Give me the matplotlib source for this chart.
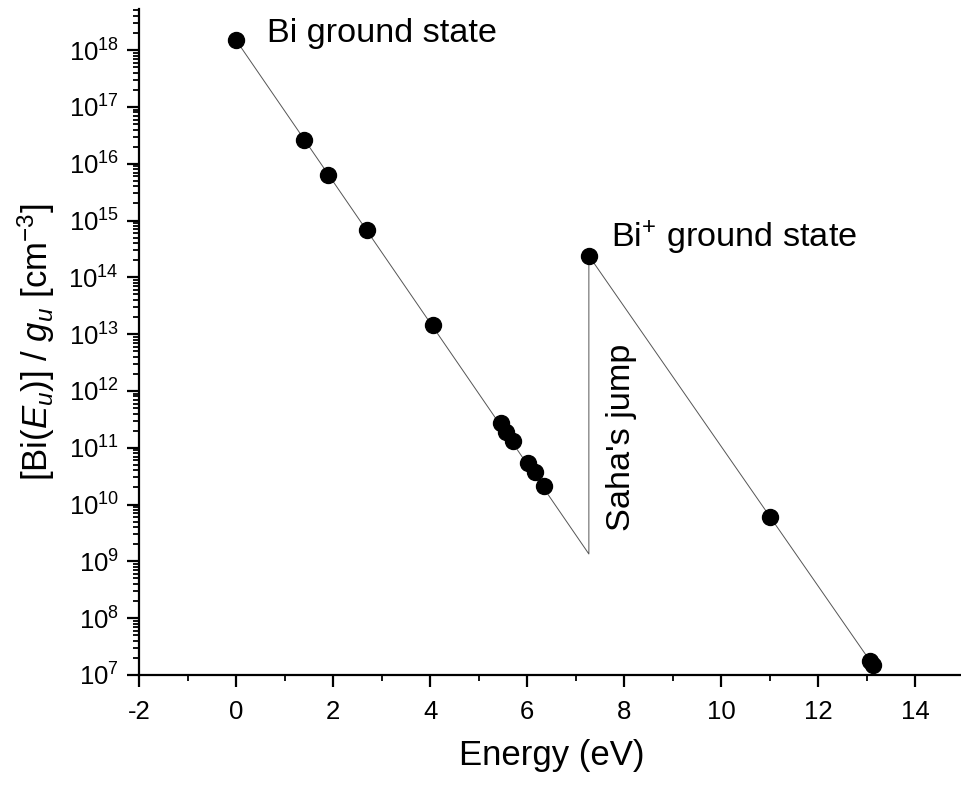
"""Boltzmann / Saha plot of Bi level populations."""

import matplotlib

matplotlib.use("Agg")
import matplotlib.pyplot as plt  # noqa: E402
from matplotlib.ticker import LogLocator, LogFormatterMathtext, MultipleLocator  # noqa: E402

# measured level populations
energy = [0.0, 1.41, 1.90, 2.69, 4.05, 5.45, 5.56, 5.70, 6.01, 6.15, 6.34,
          7.27, 11.0, 13.06, 13.12]
density = [1.5e18, 2.6e16, 6.3e15, 6.8e14, 1.45e13, 2.7e11, 1.9e11, 1.3e11,
           5.4e10, 3.8e10, 2.1e10, 2.4e14, 6.0e9, 1.75e7, 1.5e7]

# Boltzmann lines with the Saha jump between them
fit_energy = [0.0, 7.27, 7.27, 13.1]
fit_density = [1.5e18, 1.35e9, 2.4e14, 1.6e7]

plt.rcParams["font.family"] = ["Liberation Sans", "DejaVu Sans"]
plt.rcParams["mathtext.fontset"] = "custom"
plt.rcParams["mathtext.rm"] = "Liberation Sans"
plt.rcParams["mathtext.it"] = "Liberation Sans:italic"
plt.rcParams["mathtext.bf"] = "Liberation Sans:bold"
plt.rcParams["axes.unicode_minus"] = False

fig = plt.figure(figsize=(9.61, 7.87), dpi=100)
ax = fig.add_axes([139 / 961, 112 / 787, (964 - 139) / 961, (675 - 9) / 787])

ax.plot(fit_energy, fit_density, color="#555555", linewidth=0.7, zorder=2)
ax.plot(energy, density, "o", color="black", markersize=11.5, zorder=3)

ax.set_yscale("log")
ax.set_xlim(-2, 15)
ax.set_ylim(1e7, 5.3e18)

ax.xaxis.set_major_locator(MultipleLocator(2))
ax.xaxis.set_minor_locator(MultipleLocator(1))
ax.yaxis.set_major_locator(LogLocator(base=10, numticks=20))
ax.yaxis.set_minor_locator(LogLocator(base=10, subs=range(2, 10), numticks=20))
ax.yaxis.set_major_formatter(LogFormatterMathtext())

for side in ("top", "right"):
    ax.spines[side].set_visible(False)
for side in ("left", "bottom"):
    ax.spines[side].set_linewidth(1.6)

ax.tick_params(which="major", direction="out", length=8.5, width=1.6, labelsize=18.5)
ax.tick_params(which="minor", direction="out", length=4.3, width=1.3)
ax.tick_params(axis="x", which="major", pad=9.5)
ax.tick_params(axis="y", which="major", pad=6)

ax.set_xlabel("Energy (eV)", fontsize=25, labelpad=11)
ax.set_ylabel(r"[Bi($E_u$)] / $g_u$ [cm$^{-3}$]", fontsize=25, labelpad=8)

ax.text(0.63, 1.4e18, "Bi ground state", fontsize=24.7, va="baseline", ha="left")
ax.text(7.72, 3.4e14, r"Bi$^{+}$ ground state", fontsize=24.7, va="baseline", ha="left")
ax.text(7.95, 1.55e11, "Saha's jump", fontsize=24.7, rotation=90, ha="center", va="center")

fig.savefig("out.png", dpi=100)
